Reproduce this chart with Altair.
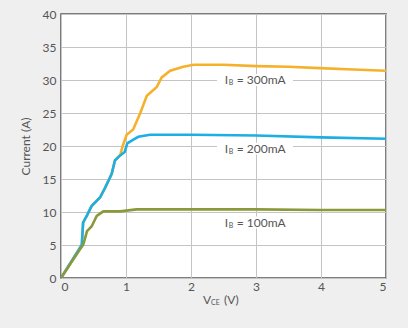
import altair as alt
import pandas as pd

x_300 = [0, 0.32, 0.34, 0.40, 0.47, 0.6, 0.68, 0.78, 0.83, 0.91, 0.95, 1.01, 1.11, 1.22, 1.32, 1.47, 1.55, 1.68, 1.88, 2.04, 2.5, 3.01, 3.5, 3.98, 4.5, 5.0]
y_300 = [0, 5.0, 8.4, 9.5, 10.9, 12.2, 13.7, 15.8, 17.8, 18.6, 20.0, 21.7, 22.5, 25.0, 27.6, 28.9, 30.4, 31.4, 32.0, 32.3, 32.3, 32.1, 32.0, 31.8, 31.6, 31.4]
x_200 = [0, 0.32, 0.34, 0.40, 0.47, 0.6, 0.68, 0.78, 0.83, 0.9, 0.98, 1.02, 1.1, 1.19, 1.37, 2, 3, 4, 5]
y_200 = [0, 5.0, 8.4, 9.5, 10.9, 12.2, 13.7, 15.8, 17.8, 18.5, 19.1, 20.4, 20.9, 21.4, 21.7, 21.7, 21.6, 21.3, 21.1]
x_100 = [0, 0.29, 0.34, 0.37, 0.40, 0.47, 0.55, 0.65, 0.91, 1.16, 2, 3, 4, 5]
y_100 = [0, 4.3, 5.0, 6.0, 7.1, 7.8, 9.4, 10.1, 10.1, 10.4, 10.4, 10.4, 10.3, 10.3]

series = ["300mA", "200mA", "100mA"]
colors = ["#F6B12C", "#1DAEE4", "#8A9A3A"]

x_ticks = [0, 1, 2, 3, 4, 5]
y_ticks = [0, 5, 10, 15, 20, 25, 30, 35, 40]

label_x = [2.52, 2.52, 2.52]
label_y = [30.0, 19.6, 8.4]
label_rest = ["= 300mA", "= 200mA", "= 100mA"]

lab = pd.DataFrame({
    "x": label_x, "y": label_y, "rest": label_rest,
    "x0": [v - 0.12 for v in label_x], "x1": [v + 1.05 for v in label_x],
    "y0": [v - 0.9 for v in label_y], "y1": [v + 0.9 for v in label_y],
})

FONT = "Lato"
GRAY = "#555555"
GRID = "#C4C4C4"

xs = alt.Scale(domain=[0, 5], nice=False)
ys = alt.Scale(domain=[0, 40], nice=False)

x_axis = alt.Axis(values=x_ticks, title=None, format="d", labelOverlap=False,
                  grid=True, gridColor=GRID, domain=False, ticks=False,
                  labelFont=FONT, labelFontSize=12, labelColor=GRAY, labelPadding=3)
y_axis = alt.Axis(values=y_ticks, title="Current (A)", labelOverlap=False,
                  grid=True, gridColor=GRID, domain=False, ticks=False,
                  labelFont=FONT, labelFontSize=12, labelColor=GRAY, labelPadding=5,
                  titleFont=FONT, titleFontSize=12, titleColor=GRAY,
                  titleFontWeight="normal", titlePadding=10)


def X(f):
    return alt.X(f, scale=xs, axis=x_axis, title=None)


def Y(f):
    return alt.Y(f, scale=ys, axis=y_axis, title="Current (A)")


layers = []
for s, xv, yv, c in zip(series, [x_300, x_200, x_100], [y_300, y_200, y_100], colors):
    d = pd.DataFrame({"x": xv, "y": yv, "order": list(range(len(xv)))})
    layers.append(alt.Chart(d).mark_line(strokeWidth=2.6, clip=True, color=c).encode(
        x=X("x:Q"), y=Y("y:Q"), order="order:Q"))

rects = alt.Chart(lab).mark_rect(color="white").encode(
    x=X("x0:Q"), x2="x1:Q", y=Y("y0:Q"), y2="y1:Q"
)

t_i = alt.Chart(lab).mark_text(text="I", align="left", baseline="middle", font=FONT, fontSize=12, color=GRAY).encode(
    x=X("x:Q"), y=Y("y:Q"))
t_b = alt.Chart(lab).mark_text(text="B", align="left", baseline="middle", font=FONT, fontSize=7, color=GRAY, dx=4, dy=3).encode(
    x=X("x:Q"), y=Y("y:Q"))
t_r = alt.Chart(lab).mark_text(align="left", baseline="middle", font=FONT, fontSize=12, color=GRAY, dx=12).encode(
    x=X("x:Q"), y=Y("y:Q"), text="rest:N")

xt_v = alt.Chart(lab.head(1)).mark_text(text="V", align="left", baseline="middle", font=FONT, fontSize=12, color=GRAY).encode(
    x=alt.value(142), y=alt.value(286))
xt_ce = alt.Chart(lab.head(1)).mark_text(text="CE", align="left", baseline="middle", font=FONT, fontSize=7, color=GRAY).encode(
    x=alt.value(150), y=alt.value(289))
xt_u = alt.Chart(lab.head(1)).mark_text(text="(V)", align="left", baseline="middle", font=FONT, fontSize=12, color=GRAY).encode(
    x=alt.value(163), y=alt.value(286))

chart = alt.layer(rects, layers[0], layers[1], layers[2], t_i, t_b, t_r, xt_v, xt_ce, xt_u).properties(
    width=325, height=264,
    background="#EFEFEF",
    padding={"left": 61, "top": 14, "right": 22, "bottom": 50},
    autosize=alt.AutoSizeParams(type="none"),
).configure_view(fill="white", stroke="#555555", strokeWidth=1.5)

chart.save("out.html", embed_options={"renderer": "svg", "actions": False})
